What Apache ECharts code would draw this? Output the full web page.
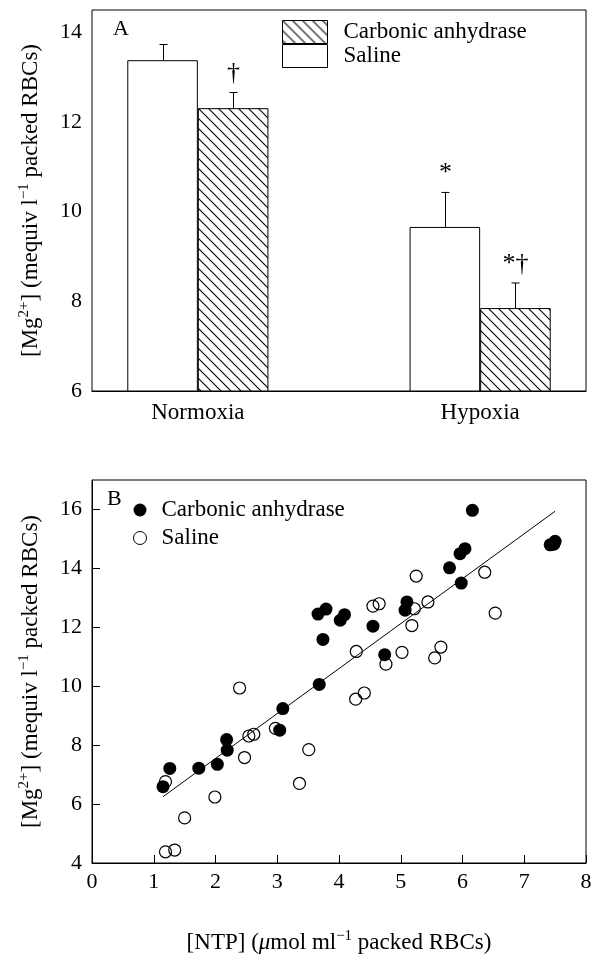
<!DOCTYPE html>
<html><head><meta charset="utf-8">
<script src="https://cdn.jsdelivr.net/npm/echarts@6/dist/echarts.min.js"></script>
<style>html,body{margin:0;padding:0;background:#fff}#c{width:596px;height:963px}</style>
</head><body><div id="c"></div>
<script>
// ---------- Panel A data ----------
const groups = ['Normoxia', 'Hypoxia'];
const salineMean = [13.38, 9.66];
const salineTop = [13.73, 10.43];   // mean + error
const caMean = [12.31, 7.85];
const caTop = [12.66, 8.41];
const salineMarks = ['', '*'];
const caMarks = ['†', '*†'];
const groupSlot = [1, 5];           // category slot of each group (7 slots)
const slotCount = 7;

// ---------- Panel B data ----------
const caNTP = [1.15, 1.26, 1.73, 2.03, 2.18, 2.19, 3.04, 3.09, 3.68, 3.74, 3.66, 3.79, 4.02, 4.09, 4.55, 4.74, 5.07, 5.10, 5.79, 5.98, 5.96, 6.04, 6.16, 7.42, 7.50, 7.48];
const caMg  = [6.59, 7.21, 7.22, 7.35, 8.19, 7.83, 8.51, 9.24, 10.06, 11.59, 12.45, 12.62, 12.24, 12.43, 12.04, 11.07, 12.58, 12.86, 14.02, 13.50, 14.50, 14.67, 15.97, 14.80, 14.92, 14.82];
const salNTP = [1.19, 1.19, 1.34, 1.50, 1.99, 2.39, 2.47, 2.54, 2.62, 2.97, 3.36, 3.51, 4.27, 4.41, 4.28, 4.76, 5.02, 4.55, 4.65, 5.22, 5.18, 5.25, 5.44, 5.55, 5.65, 6.36, 6.53];
const salMg  = [6.76, 4.38, 4.44, 5.53, 6.24, 9.94, 7.58, 8.31, 8.37, 8.57, 6.70, 7.85, 9.56, 9.77, 11.18, 10.75, 11.15, 12.72, 12.80, 12.63, 12.06, 13.74, 12.86, 10.96, 11.33, 13.87, 12.48];
const fitNTP = [1.15, 7.5];
const fitMg  = [6.25, 15.94];

const FONT = '"Liberation Serif", "Times New Roman", serif';
const slots = Array.from({length: slotCount}, () => '');
groupSlot.forEach((s, i) => { slots[s] = groups[i]; });
function slotData(vals) {
  const d = Array.from({length: slotCount}, () => '-');
  groupSlot.forEach((s, i) => { d[s] = vals[i]; });
  return d;
}

function hatch() {
  const s = 10;
  const c = document.createElement('canvas'); c.width = s; c.height = s;
  const g = c.getContext('2d');
  g.fillStyle = '#fff'; g.fillRect(0, 0, s, s);
  g.strokeStyle = '#000'; g.lineWidth = 1.1;
  g.beginPath();
  g.moveTo(-1, -1); g.lineTo(s + 1, s + 1);
  g.moveTo(-1, s - 1); g.lineTo(1, s + 1);
  g.moveTo(s - 1, -1); g.lineTo(s + 1, 1);
  g.stroke();
  return c;
}
const hatchFill = { image: hatch(), repeat: 'repeat' };

function errRender(side, marks) {
  return function (params, api) {
    const slot = api.value(0);
    const base = api.coord([slot, api.value(1)]);
    const top = api.coord([slot, api.value(2)]);
    const bw = api.size([1, 0])[0];
    const x = Math.round(base[0] + side * bw / 2) + 0.5;
    const children = [
      { type: 'line', shape: { x1: x, y1: base[1], x2: x, y2: top[1] }, style: { stroke: '#000', lineWidth: 1 } },
      { type: 'line', shape: { x1: x - 4, y1: top[1], x2: x + 4, y2: top[1] }, style: { stroke: '#000', lineWidth: 1 } }
    ];
    const m = marks[params.dataIndex];
    if (m) children.push({ type: 'text', style: { text: m, x: x, y: top[1] - 6, align: 'center', verticalAlign: 'bottom', font: '26px ' + FONT, fill: '#000' } });
    return { type: 'group', children };
  };
}

const supRich = {
  sup: { fontSize: 15, fontFamily: FONT, color: '#000', verticalAlign: 'top', padding: [0, 0, 12, 0] },
  it: { fontSize: 23, fontFamily: FONT, fontStyle: 'italic', color: '#000' }
};
const yName = '[Mg{sup|2+}] (mequiv l{sup|\u22121} packed RBCs)';
const axisText = { fontFamily: FONT, fontSize: 22, color: '#000' };
const bigText = { fontFamily: FONT, fontSize: 23, color: '#000' };

const chart = echarts.init(document.getElementById('c'), null, { renderer: 'canvas' });
chart.setOption({
  animation: false,
  backgroundColor: '#fff',
  title: [
    { text: 'A', left: 113, top: 18, padding: 0, textStyle: { fontFamily: FONT, fontSize: 22, fontWeight: 'normal', color: '#000' } },
    { text: 'B', left: 107, top: 488, padding: 0, textStyle: { fontFamily: FONT, fontSize: 22, fontWeight: 'normal', color: '#000' } }
  ],
  legend: [
    {
      orient: 'vertical', left: 282, top: 20, itemWidth: 45, itemHeight: 23, itemGap: 0, padding: 0,
      selectedMode: false,
      itemStyle: { borderColor: '#000', borderWidth: 1 },
      textStyle: Object.assign({ lineHeight: 23, padding: [0, 0, 0, 11] }, bigText),
      data: [{ name: 'Carbonic anhydrase', icon: 'rect' }, { name: 'Saline', icon: 'rect' }]
    },
    {
      orient: 'vertical', left: 133, top: 498, itemWidth: 13, itemHeight: 13, itemGap: 4, padding: 0,
      selectedMode: false,
      textStyle: Object.assign({ lineHeight: 24, padding: [0, 0, 0, 10] }, bigText),
      data: [
        { name: 'Carbonic anhydrase', icon: 'circle', itemStyle: { color: '#000', borderWidth: 0 } },
        { name: 'Saline', icon: 'circle', itemStyle: { color: '#fff', borderColor: '#000', borderWidth: 1 } }
      ]
    }
  ],
  grid: [
    { left: 92, right: 10, top: 10, height: 381, show: true, borderColor: '#000', borderWidth: 1, backgroundColor: 'transparent' },
    { left: 92, right: 10, top: 480, height: 383, show: true, borderColor: '#000', borderWidth: 1, backgroundColor: 'transparent' }
  ],
  xAxis: [
    {
      gridIndex: 0, type: 'category', data: slots, boundaryGap: true,
      axisLine: { lineStyle: { color: '#000', width: 1 } },
      axisTick: { show: false },
      axisLabel: Object.assign({ interval: 0, margin: 10 }, bigText),
      splitLine: { show: false }
    },
    {
      gridIndex: 1, type: 'value', min: 0, max: 8, interval: 1,
      axisLine: { lineStyle: { color: '#000', width: 1 } },
      axisTick: { inside: true, length: 8, lineStyle: { color: '#000' } },
      axisLabel: Object.assign({ margin: 8 }, axisText),
      splitLine: { show: false },
      name: '[NTP] ({it|\u03bc}mol ml{sup|\u22121} packed RBCs)',
      nameLocation: 'middle', nameGap: 66,
      nameTextStyle: Object.assign({ rich: supRich }, bigText)
    }
  ],
  yAxis: [
    {
      gridIndex: 0, type: 'value', min: 6, max: 14.5, interval: 2,
      axisLine: { lineStyle: { color: '#000', width: 1 } },
      axisTick: { inside: true, length: 8, lineStyle: { color: '#000' } },
      axisLabel: Object.assign({ margin: 10, showMaxLabel: false }, axisText),
      splitLine: { show: false },
      name: yName, nameLocation: 'middle', nameGap: 48,
      nameTextStyle: Object.assign({ rich: supRich }, bigText)
    },
    {
      gridIndex: 1, type: 'value', min: 4, max: 17, interval: 2,
      axisLine: { lineStyle: { color: '#000', width: 1 } },
      axisTick: { inside: true, length: 8, lineStyle: { color: '#000' } },
      axisLabel: Object.assign({ margin: 10, showMaxLabel: false }, axisText),
      splitLine: { show: false },
      name: yName, nameLocation: 'middle', nameGap: 48,
      nameTextStyle: Object.assign({ rich: supRich }, bigText)
    }
  ],
  series: [
    {
      name: 'Saline', type: 'bar', xAxisIndex: 0, yAxisIndex: 0,
      data: slotData(salineMean), barWidth: '100%', barGap: '0%',
      itemStyle: { color: '#fff', borderColor: '#000', borderWidth: 1 }
    },
    {
      name: 'Carbonic anhydrase', type: 'bar', xAxisIndex: 0, yAxisIndex: 0,
      data: slotData(caMean), barWidth: '100%', barGap: '0%',
      itemStyle: { color: hatchFill, borderColor: '#000', borderWidth: 1 }
    },
    {
      name: 'errSaline', type: 'custom', xAxisIndex: 0, yAxisIndex: 0, z: 5,
      data: groups.map((g, i) => [groupSlot[i], salineMean[i], salineTop[i]]),
      renderItem: errRender(-1, salineMarks)
    },
    {
      name: 'errCA', type: 'custom', xAxisIndex: 0, yAxisIndex: 0, z: 5,
      data: groups.map((g, i) => [groupSlot[i], caMean[i], caTop[i]]),
      renderItem: errRender(1, caMarks)
    },
    {
      name: 'fit', type: 'line', xAxisIndex: 1, yAxisIndex: 1, showSymbol: false, z: 1,
      data: fitNTP.map((x, i) => [x, fitMg[i]]),
      lineStyle: { color: '#000', width: 1 }
    },
    {
      name: 'Carbonic anhydrase', type: 'scatter', xAxisIndex: 1, yAxisIndex: 1, z: 3,
      symbol: 'circle', symbolSize: 13,
      data: caNTP.map((x, i) => [x, caMg[i]]),
      itemStyle: { color: '#000', opacity: 1 }
    },
    {
      name: 'Saline', type: 'scatter', xAxisIndex: 1, yAxisIndex: 1, z: 4,
      symbol: 'circle', symbolSize: 12,
      data: salNTP.map((x, i) => [x, salMg[i]]),
      itemStyle: { color: 'rgba(255,255,255,0)', borderColor: '#000', borderWidth: 1.2, opacity: 1 }
    }
  ]
});
</script>
</body></html>
